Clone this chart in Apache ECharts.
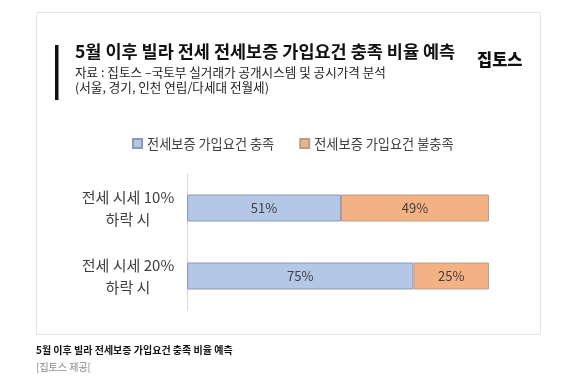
<!DOCTYPE html>
<html><head><meta charset="utf-8">
<script src="https://cdn.jsdelivr.net/npm/echarts@6/dist/echarts.min.js"></script>
<style>html,body{margin:0;padding:0;background:#fff}#c{width:562px;height:385px}</style>
</head><body><div id="c"></div>
<script>
const categories = ['전세 시세 10%\n하락 시', '전세 시세 20%\n하락 시'];
const seriesNames = ['전세보증 가입요건 충족', '전세보증 가입요건 불충족'];
const metValues = [51, 75];
const unmetValues = [49, 25];

const font = '"Noto Sans CJK KR", "Noto Sans", sans-serif';
const chart = echarts.init(document.getElementById('c'));
chart.setOption({
  backgroundColor: '#fff',
  animation: false,
  graphic: [
    {type:'rect', shape:{x:36.5,y:12.5,width:504,height:322}, style:{fill:'#fff', stroke:'#e6e6e6', lineWidth:1}},
    {type:'rect', shape:{x:55,y:45,width:3.5,height:55}, style:{fill:'#111'}},
    {type:'text', left:75, top:43, style:{text:'5월 이후 빌라 전세 전세보증 가입요건 충족 비율 예측', font:'bold 17.5px '+font, fill:'#111'}},
    {type:'text', left:75, top:65, style:{text:'자료 : 집토스 –국토부 실거래가 공개시스템 및 공시가격 분석\n(서울, 경기, 인천 연립/다세대 전월세)', font:'12.6px '+font, fill:'#222', lineHeight:15}},
    {type:'text', left:477, top:51, style:{text:'집토스', font:'900 16.5px '+font, fill:'#111'}},
    {type:'text', left:36, top:345, style:{text:'5월 이후 빌라 전세보증 가입요건 충족 비율 예측', font:'bold 10px '+font, fill:'#111'}},
    {type:'text', left:36, top:362, style:{text:'[집토스 제공[', font:'10px '+font, fill:'#888'}}
  ],
  legend: {
    top: 132, left: 127, itemWidth: 9, itemHeight: 9, itemGap: 25,
    icon: 'rect',
    textStyle: {fontFamily: font, fontSize: 13.2, color: '#404040'},
    data: seriesNames
  },
  grid: {left: 187, right: 73, top: 174, height: 136},
  xAxis: {type: 'value', min: 0, max: 100, show: false},
  yAxis: {
    type: 'category', data: categories, inverse: true,
    axisLine: {show: true, lineStyle: {color: '#d9d9d9', width: 1}},
    axisTick: {show: false},
    axisLabel: {align: 'center', margin: 59, fontFamily: font, fontSize: 15, color: '#404040', lineHeight: 22}
  },
  series: [
    {name: seriesNames[0], type: 'bar', stack: 'a', data: metValues, barWidth: 27,
     itemStyle: {color: '#b4c7e7', borderColor: '#8c9bb5', borderWidth: 1},
     label: {show: true, position: 'inside', formatter: '{c}%', fontFamily: font, fontSize: 13, color: '#404040'}},
    {name: seriesNames[1], type: 'bar', stack: 'a', data: unmetValues, barWidth: 27,
     itemStyle: {color: '#f4b183', borderColor: '#b0a090', borderWidth: 1},
     label: {show: true, position: 'inside', formatter: '{c}%', fontFamily: font, fontSize: 13, color: '#404040'}}
  ]
});
</script></body></html>
